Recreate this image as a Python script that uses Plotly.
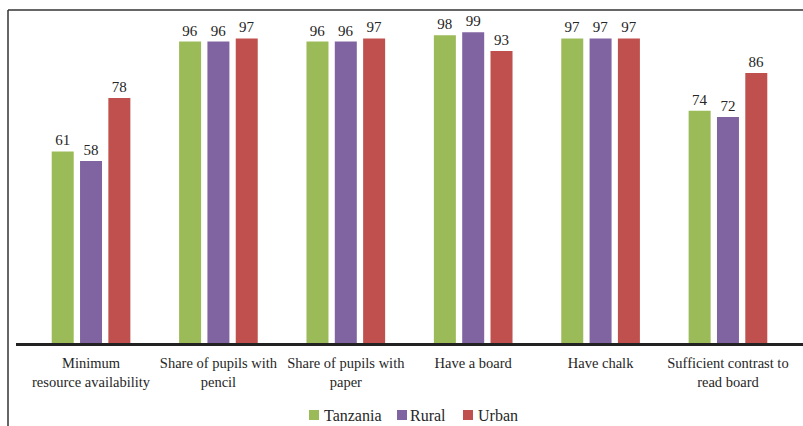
import plotly.graph_objects as go

# Categories and values (percent)
categories = [
    "Minimum<br>resource availability",
    "Share of pupils with<br>pencil",
    "Share of pupils with<br>paper",
    "Have a board",
    "Have chalk",
    "Sufficient contrast to<br>read board",
]
tanzania = [61, 96, 96, 98, 97, 74]
rural = [58, 96, 96, 99, 97, 72]
urban = [78, 97, 97, 93, 97, 86]

series_names = ["Tanzania", "Rural", "Urban"]
series_colors = ["#9BBB59", "#8064A2", "#C0504D"]

W, H = 803, 426
ML, MR, MT, MB = 16, 0, 13, 83
PW, PH = W - ML - MR, H - MT - MB
FONT = "'Liberation Serif', 'Times New Roman', 'DejaVu Serif', serif"
TXT = "#262626"


def px_x(p):
    return (p - ML) / PW


def px_y(p):
    return (H - MB - p) / PH


x_idx = list(range(len(categories)))
fig = go.Figure()
for name, vals, col in zip(series_names, [tanzania, rural, urban], series_colors):
    fig.add_trace(go.Bar(
        x=x_idx, y=vals, name=name, marker=dict(color=col, line=dict(width=0)),
        text=vals, textposition="outside", cliponaxis=False,
        textfont=dict(family=FONT, size=15, color=TXT),
        showlegend=False,
    ))

# Outer frame (left and top edges)
frame = dict(color="#333333", width=1.5)
fig.add_shape(type="line", xref="paper", yref="paper",
              x0=px_x(8), x1=px_x(8), y0=px_y(10), y1=px_y(430), line=frame)
fig.add_shape(type="line", xref="paper", yref="paper",
              x0=px_x(8), x1=px_x(806), y0=px_y(10), y1=px_y(10), line=frame)

# Legend row
legend_items = [(309, 322), (397, 408), (463, 476)]
for (sq, tx), name, col in zip(legend_items, series_names, series_colors):
    fig.add_shape(type="rect", xref="paper", yref="paper",
                  x0=px_x(sq), x1=px_x(sq + 10), y0=px_y(420), y1=px_y(410),
                  fillcolor=col, line=dict(width=0))
    fig.add_annotation(xref="paper", yref="paper", x=px_x(tx), y=px_y(415),
                       text=name, showarrow=False, xanchor="left", yanchor="middle",
                       font=dict(family=FONT, size=16, color=TXT))

fig.update_layout(
    width=W, height=H,
    margin=dict(l=ML, r=MR, t=MT, b=MB),
    paper_bgcolor="white", plot_bgcolor="white",
    barmode="group", bargap=0.333, bargroupgap=0.223,
    font=dict(family=FONT, color=TXT),
    xaxis=dict(
        tickmode="array", tickvals=x_idx, ticktext=categories,
        range=[-0.589, 5.589], showgrid=False, zeroline=False,
        showline=True, linecolor="#222222", linewidth=2.5,
        ticks="", ticklabelstandoff=5,
        tickfont=dict(family=FONT, size=14.5, color=TXT),
    ),
    yaxis=dict(range=[0, 105.1], visible=False, showgrid=False, zeroline=False),
)

fig.write_html("out.html")
